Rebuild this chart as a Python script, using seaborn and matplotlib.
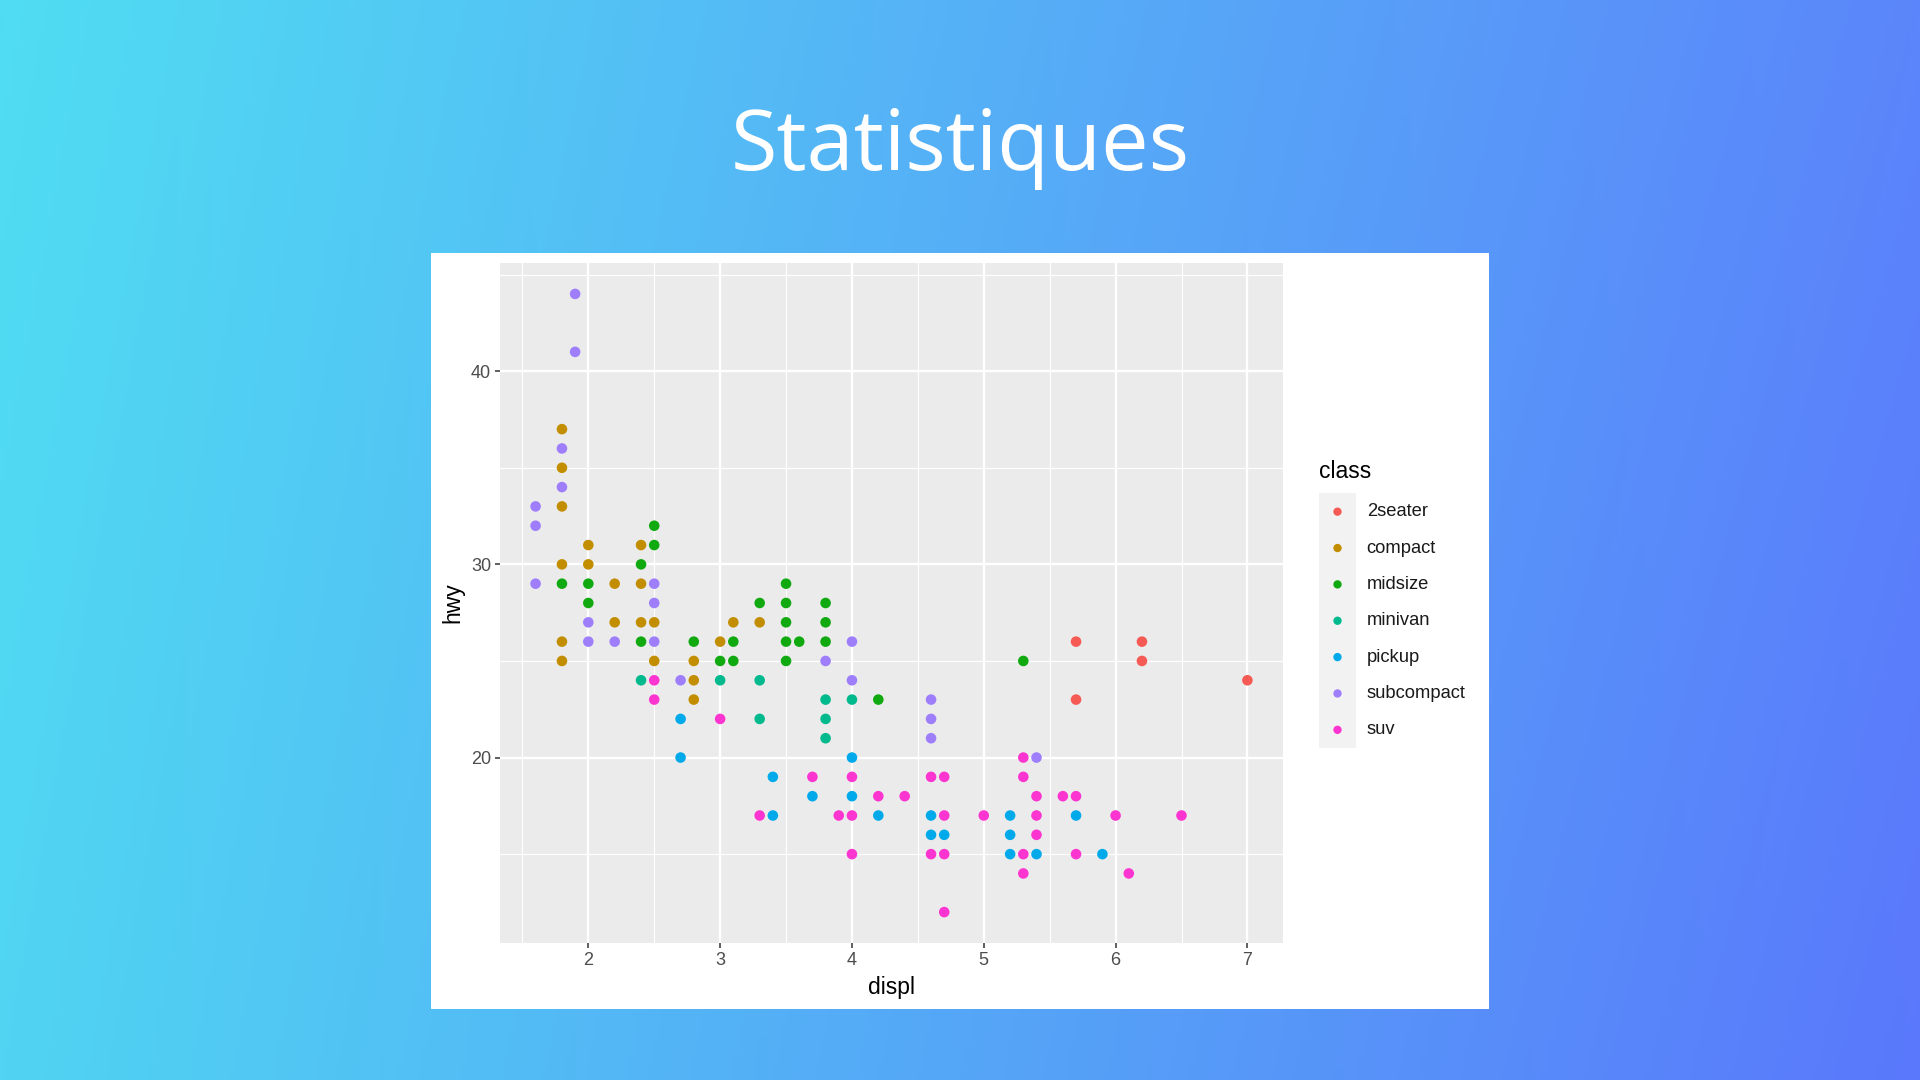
import numpy as np
import pandas as pd
import matplotlib
matplotlib.use("Agg")
import matplotlib.pyplot as plt
from matplotlib.patches import Rectangle
import seaborn as sns

# ---------------- data ----------------
classes = ["2seater", "compact", "midsize", "minivan", "pickup", "subcompact", "suv"]
palette = ["#F65A55", "#C28E00", "#10AA10", "#00B98C", "#00AAEA", "#9E7EFB", "#FC34D0"]

displ_2seater = [5.7, 5.7, 6.2, 6.2, 7.0]
hwy_2seater = [26, 23, 26, 25, 24]

displ_compact = [1.8, 1.8, 1.8, 1.8, 1.8, 1.8, 2.0, 2.0, 2.2, 2.2, 2.4, 2.4, 2.4,
                 2.5, 2.5, 2.8, 2.8, 2.8, 3.0, 3.1, 3.3]
hwy_compact = [37, 35, 33, 30, 26, 25, 31, 30, 29, 27, 31, 29, 27,
               27, 25, 25, 24, 23, 26, 27, 27]

displ_midsize = [1.8, 2.0, 2.0, 2.4, 2.4, 2.5, 2.5, 2.8, 3.0, 3.1, 3.1, 3.3, 3.5, 3.5,
                 3.5, 3.5, 3.5, 3.6, 3.8, 3.8, 3.8, 4.2, 5.3]
hwy_midsize = [29, 29, 28, 30, 26, 32, 31, 26, 25, 26, 25, 28, 29, 28,
               27, 26, 25, 26, 28, 27, 26, 23, 25]

displ_minivan = [2.4, 3.0, 3.3, 3.3, 3.8, 3.8, 3.8, 4.0]
hwy_minivan = [24, 24, 24, 22, 23, 22, 21, 23]

displ_pickup = [2.7, 2.7, 3.4, 3.4, 3.7, 4.0, 4.0, 4.2, 4.6, 4.6, 4.7, 5.2, 5.2, 5.2,
                5.4, 5.7, 5.9]
hwy_pickup = [22, 20, 19, 17, 18, 20, 18, 17, 17, 16, 16, 17, 16, 15,
              15, 17, 15]

displ_subcompact = [1.6, 1.6, 1.6, 1.8, 1.8, 1.9, 1.9, 2.0, 2.0, 2.2, 2.5, 2.5, 2.5,
                    2.7, 3.8, 4.0, 4.0, 4.6, 4.6, 4.6, 5.4]
hwy_subcompact = [33, 32, 29, 36, 34, 44, 41, 27, 26, 26, 29, 28, 26,
                  24, 25, 26, 24, 23, 22, 21, 20]

displ_suv = [2.5, 2.5, 3.0, 3.3, 3.7, 3.9, 4.0, 4.0, 4.0, 4.2, 4.4, 4.6, 4.6, 4.7,
             4.7, 4.7, 4.7, 5.0, 5.3, 5.3, 5.3, 5.3, 5.4, 5.4, 5.4, 5.6, 5.7, 5.7,
             6.0, 6.1, 6.5]
hwy_suv = [24, 23, 22, 17, 19, 17, 19, 17, 15, 18, 18, 19, 15, 19,
           17, 15, 12, 17, 20, 19, 15, 14, 18, 17, 16, 18, 18, 15,
           17, 14, 17]

x_ticks = [2, 3, 4, 5, 6, 7]
y_ticks = [20, 30, 40]

# ---------------- build table ----------------
series = {
    "2seater": (displ_2seater, hwy_2seater),
    "compact": (displ_compact, hwy_compact),
    "midsize": (displ_midsize, hwy_midsize),
    "minivan": (displ_minivan, hwy_minivan),
    "pickup": (displ_pickup, hwy_pickup),
    "subcompact": (displ_subcompact, hwy_subcompact),
    "suv": (displ_suv, hwy_suv),
}
rows = []
for c in classes:
    xs, ys = series[c]
    for a, b in zip(xs, ys):
        rows.append({"displ": a, "hwy": b, "class": c})
df = pd.DataFrame(rows)
pal = dict(zip(classes, palette))

plt.rcParams["font.family"] = ["Liberation Sans", "DejaVu Sans"]

W, H = 1920, 1080
fig = plt.figure(figsize=(W / 100, H / 100), dpi=100)

# ---------------- gradient background ----------------
bg = fig.add_axes([0, 0, 1, 1])
bg.set_axis_off()
tl = np.array([80, 221, 242]) / 255
tr = np.array([91, 134, 251]) / 255
bl = np.array([80, 212, 242]) / 255
br = np.array([90, 120, 252]) / 255
u = np.linspace(0, 1, 400)[None, :, None]
v = np.linspace(0, 1, 225)[:, None, None]
grad = (1 - v) * ((1 - u) * tl + u * tr) + v * ((1 - u) * bl + u * br)
bg.imshow(grad, aspect="auto", extent=[0, 1, 0, 1], origin="upper")
bg.set_xlim(0, 1)
bg.set_ylim(0, 1)

# title
fig.text(0.5, 1 - 170 / 1080, "Statistiques", color="white", fontsize=61,
         ha="center", va="baseline", family=["Open Sans", "DejaVu Sans"])

# white card
fig.patches.append(Rectangle((431 / W, 1 - 1009 / H), 1058 / W, 756 / H,
                             transform=fig.transFigure, facecolor="white",
                             edgecolor="none", zorder=1))

# ---------------- scatter panel ----------------
ax = fig.add_axes([500 / W, 1 - 943 / H, 783 / W, 680 / H], zorder=3)
ax.set_facecolor("#EBEBEB")
sns.scatterplot(data=df, x="displ", y="hwy", hue="class", hue_order=classes,
                palette=pal, s=58, linewidth=0, alpha=1, ax=ax, legend=False,
                zorder=3)
ax.set_xlim(1.33, 7.27)
ax.set_ylim(10.4, 45.6)
ax.set_xticks(x_ticks)
ax.set_yticks(y_ticks)
ax.set_xticks([1.5, 2.5, 3.5, 4.5, 5.5, 6.5], minor=True)
ax.set_yticks([15, 25, 35, 45], minor=True)
ax.grid(True, which="major", color="white", linewidth=1.7, zorder=0)
ax.grid(True, which="minor", color="white", linewidth=0.8, zorder=0)
ax.set_axisbelow(True)
for sp in ax.spines.values():
    sp.set_visible(False)
ax.tick_params(axis="both", which="major", length=3.5, width=1.1, color="#333333",
               labelcolor="#4D4D4D", labelsize=13, pad=3)
ax.tick_params(axis="both", which="minor", length=0)
ax.set_xlabel("displ", fontsize=16.5, color="black", labelpad=5)
ax.set_ylabel("hwy", fontsize=16.5, color="black", labelpad=5)

# ---------------- legend ----------------
lg = fig.add_axes([1319 / W, 1 - 748 / H, 37 / W, 254.5 / H], zorder=3)
lg.set_facecolor("#F2F2F2")
for sp in lg.spines.values():
    sp.set_visible(False)
lg.set_xticks([])
lg.set_yticks([])
lg.set_xlim(0, 1)
lg.set_ylim(6.5, -0.5)
pos = list(range(len(classes)))
lg.scatter([0.5] * len(classes), pos, c=palette, s=36, linewidths=0)
for i, c in enumerate(classes):
    lg.text(1.29, i, c, fontsize=13.2, va="center", ha="left", color="#1A1A1A",
            clip_on=False)
fig.text(1319 / W, 1 - 471 / H, "class", fontsize=16.5, va="center", ha="left",
         color="black")

fig.savefig("out.png", dpi=100)
